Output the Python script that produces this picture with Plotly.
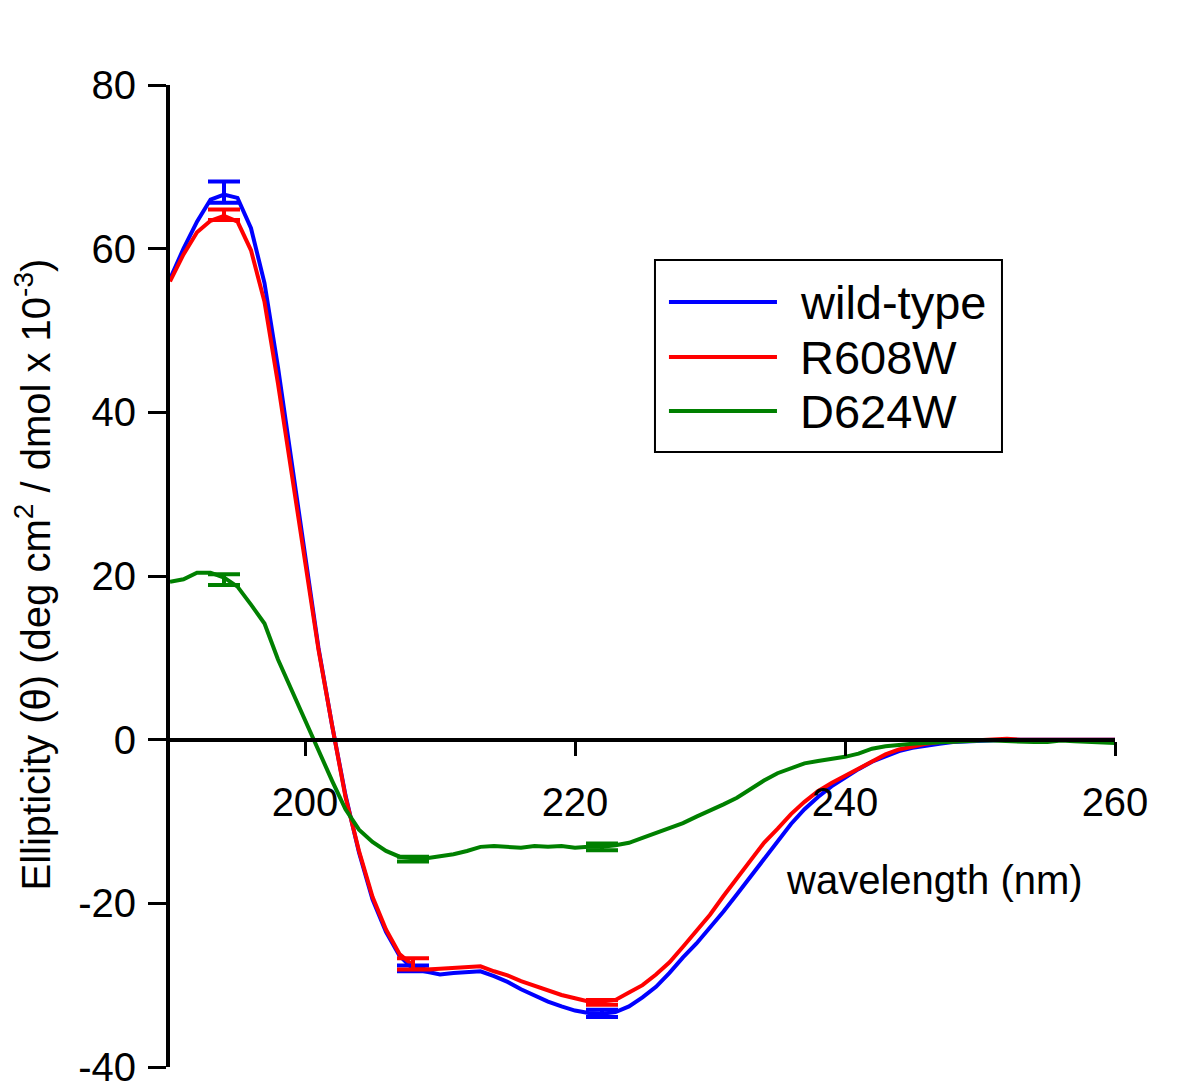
import plotly.graph_objects as go

wavelength = list(range(190, 261))

wild_type = [56.3, 60.0, 63.3, 66.0, 66.6, 66.2, 62.5, 55.8, 45.5, 34.0,
             22.3, 11.2, 1.8, -6.8, -13.8, -19.5, -23.5, -26.4, -28.0, -28.4,
             -28.7, -28.5, -28.4, -28.3, -28.9, -29.6, -30.5, -31.3, -32.0, -32.6,
             -33.1, -33.4, -33.5, -33.3, -32.6, -31.5, -30.2, -28.5, -26.6, -24.9,
             -23.0, -21.0, -18.9, -16.7, -14.5, -12.3, -10.3, -8.5, -7.0, -5.7,
             -4.6, -3.6, -2.7, -2.0, -1.4, -1.0, -0.7, -0.5, -0.3, -0.2,
             -0.1, 0.0, 0.0, 0.0, 0.0, 0.0, 0.0, 0.0, 0.0, 0.0, 0.0]

r608w = [56.0, 59.3, 62.0, 63.4, 64.0, 63.3, 59.8, 53.5, 43.5, 32.5,
         21.8, 11.0, 1.8, -7.0, -13.6, -19.2, -23.2, -26.2, -27.6, -28.1,
         -28.0, -27.9, -27.8, -27.7, -28.3, -28.8, -29.5, -30.1, -30.6, -31.2,
         -31.6, -32.0, -32.0, -31.8, -30.9, -30.0, -28.7, -27.2, -25.3, -23.4,
         -21.4, -19.1, -16.9, -14.7, -12.6, -10.9, -9.1, -7.6, -6.3, -5.3,
         -4.4, -3.5, -2.6, -1.8, -1.2, -0.8, -0.5, -0.3, -0.2, -0.1,
         0.0, 0.0, 0.1, 0.0, 0.0, 0.1, 0.0, 0.0, 0.0, 0.0, 0.0]

d624w = [19.3, 19.6, 20.4, 20.4, 19.8, 18.7, 16.5, 14.2, 9.8, 6.1,
         2.2, -1.5, -5.0, -8.5, -11.0, -12.5, -13.6, -14.3, -14.5, -14.5,
         -14.3, -14.0, -13.6, -13.1, -13.0, -13.1, -13.2, -13.0, -13.1, -13.0,
         -13.2, -13.1, -13.1, -12.9, -12.6, -12.0, -11.4, -10.8, -10.2, -9.4,
         -8.7, -7.9, -7.1, -6.0, -5.0, -4.1, -3.5, -2.9, -2.6, -2.4,
         -2.1, -1.7, -1.1, -0.8, -0.6, -0.5, -0.4, -0.3, -0.2, -0.2,
         -0.1, -0.1, -0.2, -0.2, -0.3, -0.3, -0.1, -0.2, -0.3, -0.4, -0.4]

err_x = [194, 208, 222]
wt_mean = [66.9, -27.95, -33.45]
wt_err = [1.3, 0.35, 0.45]
r608w_mean = [64.15, -27.4, -32.1]
r608w_err = [0.65, 0.7, 0.3]
d624w_mean = [19.55, -14.6, -13.1]
d624w_err = [0.65, 0.3, 0.4]

series_names = ["wild-type", "R608W", "D624W"]
colors = ["#0000FF", "#FF0000", "#008000"]

y_ticks = [-40, -20, 0, 20, 40, 60, 80]
y_ticktext = ["-40", "-20", "0", "20", "40", "60", "80"]
x_ticks = [200, 220, 240, 260]

FONT = "Liberation Sans, Arial, sans-serif"

fig = go.Figure()

for name, ys, col in zip(series_names, [wild_type, r608w, d624w], colors):
    fig.add_trace(go.Scatter(x=wavelength, y=ys, mode="lines", name=name,
                             line=dict(color=col, width=4), showlegend=False))

for name, ym, ye, col in zip(series_names, [wt_mean, r608w_mean, d624w_mean],
                             [wt_err, r608w_err, d624w_err], colors):
    fig.add_trace(go.Scatter(x=err_x, y=ym, mode="markers", name=name + " SD",
                             marker=dict(size=1, color=col),
                             error_y=dict(type="data", array=ye, visible=True,
                                          color=col, thickness=4, width=16),
                             showlegend=False))

# Legend drawn by hand (long line samples as in the reference)
shapes = [dict(type="rect", xref="paper", yref="paper",
               x0=0.5132, x1=0.8804, y0=0.6263, y1=0.8218,
               line=dict(color="black", width=2), fillcolor="white", layer="above")]
annotations = []
legend_rows_y = [0.7790, 0.7230, 0.6680]
for name, col, ly in zip(series_names, colors, legend_rows_y):
    shapes.append(dict(type="line", xref="paper", yref="paper",
                       x0=0.5280, x1=0.6423, y0=ly, y1=ly,
                       line=dict(color=col, width=4), layer="above"))
    annotations.append(dict(text=name, xref="paper", yref="paper",
                            x=0.6650, y=ly, xanchor="left", yanchor="middle",
                            showarrow=False, font=dict(size=47, family=FONT, color="black")))

annotations += [
    dict(text="wavelength (nm)", xref="paper", yref="paper",
         x=0.8095, y=0.1904, xanchor="center", yanchor="middle",
         showarrow=False, font=dict(size=40, family=FONT)),
    dict(text="Ellipticity (\u03b8) (deg cm<sup>2</sup> / dmol x 10<sup>-3</sup>)",
         xref="paper", yref="paper", x=-0.1445, y=0.502,
         xanchor="center", yanchor="middle", textangle=-90,
         showarrow=False, font=dict(size=40, family=FONT)),
]

# page body has an 8 px margin; figure sized so the plot area lands where the reference has it
fig.update_layout(
    width=1184, height=1083,
    margin=dict(l=162, r=77, t=77, b=24),
    paper_bgcolor="white", plot_bgcolor="white",
    font=dict(family=FONT, color="black", size=40),
    showlegend=False,
    xaxis=dict(range=[190, 260], tickvals=x_ticks, ticks="outside", ticklen=14,
               tickwidth=3, tickcolor="black", showline=True, linewidth=4,
               linecolor="black", showgrid=False, zeroline=False,
               anchor="free", position=1/3, ticklabelstandoff=12,
               automargin=False, tickfont=dict(size=40, family=FONT)),
    yaxis=dict(range=[-40, 80], tickvals=y_ticks, ticktext=y_ticktext,
               ticks="outside", ticklen=18,
               tickwidth=3, tickcolor="black", showline=True, linewidth=4,
               linecolor="black", showgrid=False, zeroline=False,
               domain=[0, 1], automargin=False, ticklabelstandoff=4,
               ticklabeloverflow="allow",
               tickfont=dict(size=40, family=FONT)),
    shapes=shapes,
    annotations=annotations,
)

fig.write_html("out.html")
